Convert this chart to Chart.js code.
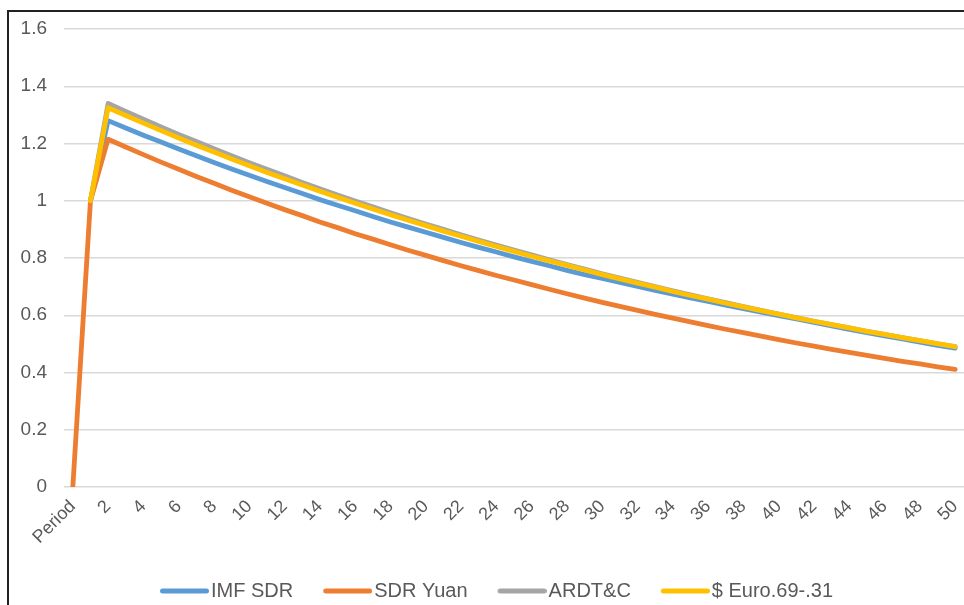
<!DOCTYPE html>
<html>
<head>
<meta charset="utf-8">
<script src="https://cdn.jsdelivr.net/npm/chart.js@4"></script>
<style>
  html,body{margin:0;padding:0;background:#fff;}
  #wrap{position:relative;width:964px;height:605px;overflow:hidden;}
  #frame{position:absolute;left:7px;top:10px;width:970px;height:610px;border-left:2px solid #222;border-top:2px solid #222;}
  canvas{position:absolute;left:0;top:0;}
</style>
</head>
<body>
<div id="wrap">
  <div id="frame"></div>
  <canvas id="chart" width="964" height="605"></canvas>
</div>
<script>
const periods = ["Period"].concat(Array.from({length:50},(_,i)=>String(i+1)));

const imfSdr = [null, 1, 1.280, 1.254, 1.229, 1.205, 1.181, 1.157, 1.134, 1.111, 1.089,
  1.067, 1.046, 1.025, 1.004, 0.984, 0.965, 0.945, 0.926, 0.908, 0.890,
  0.872, 0.854, 0.837, 0.821, 0.804, 0.788, 0.773, 0.757, 0.742, 0.729,
  0.715, 0.701, 0.687, 0.674, 0.661, 0.648, 0.635, 0.623, 0.611, 0.599,
  0.587, 0.575, 0.563, 0.551, 0.539, 0.528, 0.517, 0.506, 0.495, 0.485];

const sdrYuan = [0, 1, 1.215, 1.188, 1.161, 1.135, 1.110, 1.085, 1.061, 1.037, 1.014,
  0.991, 0.969, 0.948, 0.926, 0.906, 0.885, 0.866, 0.846, 0.827, 0.809,
  0.791, 0.773, 0.756, 0.739, 0.723, 0.707, 0.691, 0.675, 0.660, 0.645,
  0.631, 0.617, 0.603, 0.590, 0.577, 0.564, 0.551, 0.539, 0.527, 0.515,
  0.503, 0.492, 0.481, 0.470, 0.460, 0.449, 0.439, 0.430, 0.420, 0.411];

const ardtc = [null, 1, 1.340, 1.312, 1.285, 1.258, 1.232, 1.207, 1.182, 1.157, 1.133,
  1.110, 1.087, 1.064, 1.042, 1.020, 0.999, 0.979, 0.958, 0.938, 0.919,
  0.900, 0.881, 0.863, 0.845, 0.828, 0.811, 0.794, 0.777, 0.761, 0.745,
  0.730, 0.715, 0.700, 0.685, 0.671, 0.657, 0.644, 0.630, 0.617, 0.604,
  0.592, 0.579, 0.567, 0.556, 0.544, 0.533, 0.522, 0.511, 0.500, 0.490];

const euro6931 = [null, 1, 1.325, 1.298, 1.271, 1.245, 1.219, 1.194, 1.170, 1.146, 1.122,
  1.099, 1.077, 1.055, 1.033, 1.012, 0.991, 0.971, 0.951, 0.932, 0.913,
  0.894, 0.876, 0.858, 0.840, 0.823, 0.806, 0.790, 0.774, 0.758, 0.742,
  0.727, 0.712, 0.698, 0.683, 0.669, 0.656, 0.642, 0.629, 0.616, 0.604,
  0.591, 0.579, 0.567, 0.556, 0.544, 0.533, 0.522, 0.511, 0.501, 0.490];

const yTicks = [0, 0.2, 0.4, 0.6, 0.8, 1, 1.2, 1.4, 1.6];

const textCol = "#595959";
const fontFam = "'Liberation Sans', Arial, sans-serif";

function line(label, data, color){
  return {label, data, borderColor:color, backgroundColor:color, borderWidth:4.8,
    pointRadius:0, tension:0, borderCapStyle:"round", borderJoinStyle:"round", spanGaps:false};
}

// legend swatch: a short line sitting right next to its text, like Excel does
function swatch(color){
  const c = document.createElement("canvas");
  c.width = 79; c.height = 6;
  const g = c.getContext("2d");
  g.strokeStyle = color; g.lineWidth = 5; g.lineCap = "round";
  g.beginPath(); g.moveTo(32.5, 3); g.lineTo(76.5, 3); g.stroke();
  return c;
}

// first dataset is painted on top, so the series go in reverse and the legend flips them back
const datasets = [
  line("$ Euro.69-.31", euro6931, "#FFC000"),
  line("ARDT&C", ardtc, "#A5A5A5"),
  line("SDR Yuan", sdrYuan, "#ED7D31"),
  line("IMF SDR", imfSdr, "#5B9BD5")
];

new Chart(document.getElementById("chart"), {
  type: "line",
  data: {labels: periods, datasets},
  options: {
    responsive: false,
    animation: false,
    layout: {padding: {top: 29, right: 0, bottom: -6, left: 7}},
    plugins: {
      tooltip: {enabled: false},
      legend: {
        position: "bottom",
        reverse: true,
        labels: {
          color: textCol,
          font: {family: fontFam, size: 20},
          usePointStyle: true, pointStyleWidth: 63, padding: 8,
          generateLabels(chart){
            return Chart.defaults.plugins.legend.labels.generateLabels(chart)
              .map(l => ({...l, pointStyle: swatch(l.strokeStyle), rotation: 0}));
          }
        }
      }
    },
    scales: {
      x: {
        offset: true,
        grid: {display: false, drawTicks: false},
        border: {display: false},
        ticks: {
          autoSkip: false, minRotation: 45, maxRotation: 45, padding: 9,
          color: textCol, font: {family: fontFam, size: 18},
          callback: (v, i) => i % 2 === 0 ? periods[i] : ""
        },
        afterFit(s){ s.height = 86; s.paddingRight = 0; }
      },
      y: {
        min: 0, max: 1.6,
        afterBuildTicks(s){ s.ticks = yTicks.map(v => ({value: v})); },
        grid: {color: "#d9d9d9", lineWidth: 1.5, drawTicks: false},
        border: {display: false},
        ticks: {
          padding: 17, color: textCol, font: {family: fontFam, size: 19},
          callback: v => String(+v.toFixed(1))
        },
        afterFit(s){ s.width = 57; }
      }
    }
  }
});
</script>
</body>
</html>
